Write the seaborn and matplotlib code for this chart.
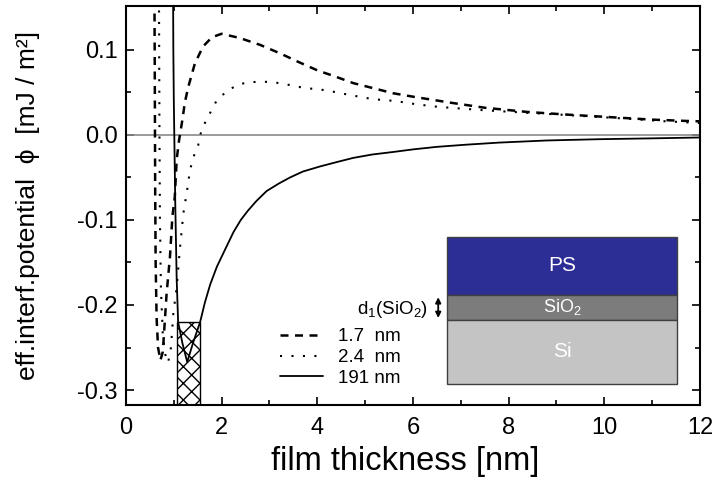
import matplotlib
matplotlib.use("Agg")
import matplotlib.pyplot as plt
from matplotlib.patches import Rectangle
import seaborn as sns

# SiO2 layer 1.7 nm (dashed)
x_17 = [0.595, 0.60, 0.605, 0.61, 0.62, 0.64, 0.67, 0.72, 0.77, 0.85, 0.92, 0.97, 1.02,
        1.06, 1.11, 1.18, 1.23, 1.30, 1.44, 1.61, 1.80, 2.00, 2.38, 2.80, 3.22, 3.60,
        4.00, 4.41, 4.75, 5.17, 5.59, 6.00, 6.78, 7.50, 8.40, 9.20, 10.1, 11.0, 11.7, 12.0]
y_17 = [0.16, 0.10, 0.02, -0.06, -0.15, -0.215, -0.25, -0.265, -0.255, -0.186, -0.143,
        -0.096, -0.073, -0.029, -0.006, 0.018, 0.038, 0.056, 0.084, 0.104, 0.115, 0.119,
        0.114, 0.106, 0.096, 0.086, 0.076, 0.068, 0.061, 0.055, 0.049, 0.045, 0.038,
        0.032, 0.027, 0.024, 0.021, 0.018, 0.0165, 0.016]

# SiO2 layer 2.4 nm (dotted)
x_24 = [0.69, 0.695, 0.70, 0.71, 0.73, 0.77, 0.82, 0.88, 0.94, 0.99, 1.06, 1.13, 1.20,
        1.27, 1.34, 1.41, 1.51, 1.55, 1.65, 1.76, 1.90, 2.10, 2.33, 2.56, 2.80, 3.05,
        3.29, 3.50, 3.74, 3.99, 4.23, 4.68, 5.17, 5.62, 6.08, 6.53, 7.50, 8.40, 9.20,
        10.5, 11.3, 12.0]
y_24 = [0.16, 0.08, 0.0, -0.10, -0.18, -0.235, -0.258, -0.268, -0.25, -0.21, -0.179,
        -0.132, -0.092, -0.068, -0.041, -0.026, -0.012, 0.0, 0.014, 0.026, 0.041, 0.051,
        0.059, 0.062, 0.0625, 0.0624, 0.060, 0.058, 0.055, 0.054, 0.052, 0.047, 0.042,
        0.040, 0.036, 0.033, 0.029, 0.026, 0.0235, 0.019, 0.016, 0.014]

# SiO2 layer 191 nm (solid)
x_191 = [0.985, 0.99, 1.00, 1.03, 1.06, 1.09, 1.18, 1.28, 1.40, 1.55, 1.65, 1.76, 1.90,
         2.07, 2.25, 2.40, 2.55, 2.73, 2.94, 3.20, 3.43, 3.70, 4.06, 4.40, 4.75, 5.15,
         5.59, 6.00, 6.50, 7.10, 7.80, 8.80, 9.90, 11.0, 12.0]
y_191 = [0.16, 0.10, 0.04, -0.08, -0.17, -0.22, -0.245, -0.267, -0.245, -0.22, -0.197,
         -0.176, -0.155, -0.135, -0.114, -0.100, -0.089, -0.0775, -0.066, -0.057, -0.050,
         -0.043, -0.037, -0.032, -0.027, -0.023, -0.020, -0.017, -0.014, -0.0115, -0.009,
         -0.0065, -0.005, -0.004, -0.003]

labels = ["1.7  nm", "2.4  nm", "191 nm"]

# cross-hatched region
hatch_x = [1.07, 1.55]
hatch_top = -0.22

# layer stack of the inset
layers = ["PS", "SiO$_2$", "Si"]
layer_colors = ["#2d2d96", "#7c7c7c", "#c4c4c4"]
layer_bounds = [0.421, 0.276, 0.213, 0.053]

sns.set_style("ticks")
plt.rcParams["font.family"] = ["Liberation Sans", "DejaVu Sans"]
plt.rcParams["mathtext.fontset"] = "custom"
plt.rcParams["mathtext.rm"] = "Liberation Sans"
plt.rcParams["mathtext.default"] = "regular"
plt.rcParams.update({"text.color": "black", "axes.labelcolor": "black",
                     "xtick.color": "black", "ytick.color": "black",
                     "axes.edgecolor": "black"})

fig = plt.figure(figsize=(7.13, 4.82), dpi=100)
ax = fig.add_axes([0.1767, 0.1598, 0.805, 0.828])

ax.axhline(0, color="#8a8a8a", lw=1.2, zorder=1)

ax.bar(hatch_x[0], hatch_top - (-0.3176), width=hatch_x[1] - hatch_x[0], bottom=-0.3176,
       align="edge", facecolor="white", edgecolor="black", hatch="xx", lw=1.0, zorder=2)

sns.lineplot(x=x_17, y=y_17, ax=ax, color="black", lw=1.8, sort=False, estimator=None,
             linestyle=(0, (3.2, 2.6)), zorder=3)
h1 = ax.lines[-1]
sns.lineplot(x=x_24, y=y_24, ax=ax, color="black", lw=1.5, sort=False, estimator=None,
             linestyle=(0, (1, 4.5)), zorder=3)
h2 = ax.lines[-1]
sns.lineplot(x=x_191, y=y_191, ax=ax, color="black", lw=1.3, sort=False, estimator=None,
             zorder=3)
h3 = ax.lines[-1]

ax.set_xlim(0, 12)
ax.set_ylim(-0.3176, 0.1518)
ax.set_xticks(range(0, 13, 2))
ax.set_xticks(range(1, 12, 2), minor=True)
ax.set_yticks([-0.3, -0.2, -0.1, 0.0, 0.1])
ax.set_yticklabels(["-0.3", "-0.2", "-0.1", "0.0", "0.1"])
ax.set_yticks([-0.25, -0.15, -0.05, 0.05], minor=True)
ax.tick_params(which="both", direction="in", top=True, right=True, width=1.2,
               labelsize=17, pad=6)
ax.tick_params(axis="x", which="major", pad=9)
ax.tick_params(which="major", length=6)
ax.tick_params(which="minor", length=3.5)
for s in ax.spines.values():
    s.set_linewidth(1.5)

ax.set_xlabel("film thickness [nm]", fontsize=23.5)
ax.xaxis.set_label_coords(0.487, -0.103)
ax.set_ylabel("eff.interf.potential  \u03d5  [mJ / m\u00b2]", fontsize=19, labelpad=27)

leg = ax.legend([h1, h2, h3], labels, loc="lower left", bbox_to_anchor=(0.268, 0.045),
                frameon=False, fontsize=13.5, handlelength=2.3, handletextpad=0.8,
                labelspacing=0.2, borderpad=0, borderaxespad=0)
ax.text(0.526, 0.238, "d$_1$(SiO$_2$)", transform=ax.transAxes, ha="right", va="center",
        fontsize=13.5)
ax.annotate("", xy=(0.544, 0.27), xytext=(0.544, 0.218), xycoords="axes fraction",
            arrowprops=dict(arrowstyle="<|-|>", lw=1.3, color="black", mutation_scale=8,
                            shrinkA=0, shrinkB=0))

# inset: layer stack
for i, name in enumerate(layers):
    top, bot = layer_bounds[i], layer_bounds[i + 1]
    ax.add_patch(Rectangle((0.559, bot), 0.401, top - bot, transform=ax.transAxes,
                           facecolor=layer_colors[i], edgecolor="#404040", lw=1.0,
                           zorder=4))
    ax.text(0.7595, (top + bot) / 2, name, transform=ax.transAxes, ha="center",
            va="center", color="white", fontsize=15 if name != "SiO$_2$" else 13,
            zorder=5)

fig.savefig("out.png", dpi=100)
